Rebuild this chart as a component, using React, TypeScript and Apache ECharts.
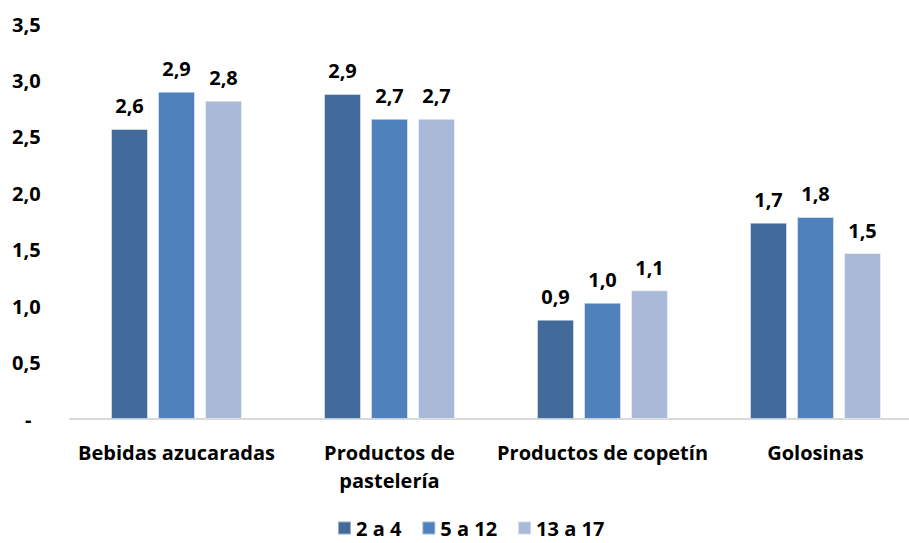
import React, { useEffect, useRef } from "react";
import * as echarts from "echarts";

const categories = ["Bebidas azucaradas", "Productos de\npastelería", "Productos de copetín", "Golosinas"];
const seriesNames = ["2 a 4", "5 a 12", "13 a 17"];
const age2to4 = [2.57, 2.88, 0.88, 1.74];
const age5to12 = [2.9, 2.66, 1.03, 1.79];
const age13to17 = [2.82, 2.66, 1.14, 1.47];
const colors = ["#426A9B", "#4F81BD", "#AAB9D7"];

const FONT = "'Open Sans', Lato, sans-serif";
const FS = 20;

const fmt = (v: number) => v.toFixed(1).replace(".", ",");

export default function App() {
  const ref = useRef<HTMLDivElement>(null);

  useEffect(() => {
    if (!ref.current) return;
    const chart = echarts.init(ref.current, undefined, { renderer: "svg" });
    const values = [age2to4, age5to12, age13to17];
    chart.setOption({
      animation: false,
      backgroundColor: "#ffffff",
      textStyle: { fontFamily: FONT },
      grid: { left: 70, top: 24, width: 852, height: 395, containLabel: false, outerBoundsMode: "none" },
      legend: {
        bottom: 5,
        left: 337,
        padding: 0,
        itemWidth: 13,
        itemHeight: 13,
        itemGap: 20,
        icon: "rect",
        textStyle: { fontFamily: FONT, fontWeight: "bold", fontSize: FS, lineHeight: 20, color: "#000" },
        data: seriesNames,
      },
      xAxis: {
        type: "category",
        data: categories,
        axisLine: { show: true, lineStyle: { color: "#d9d9d9", width: 2 } },
        axisTick: { show: false },
        axisLabel: {
          margin: 19,
          fontFamily: FONT,
          fontWeight: "bold",
          fontSize: FS,
          color: "#000",
          lineHeight: 28,
          interval: 0,
        },
      },
      yAxis: {
        type: "value",
        min: 0,
        max: 3.5,
        interval: 0.5,
        splitLine: { show: false },
        axisLine: { show: false },
        axisTick: { show: false },
        axisLabel: {
          align: "left",
          margin: 58,
          fontFamily: FONT,
          fontWeight: "bold",
          fontSize: FS,
          color: "#000",
          formatter: (v: number) => (v === 0 ? "{dash|-}" : fmt(v)),
          rich: {
            dash: { padding: [0, 0, 0, 13], fontFamily: FONT, fontWeight: "bold", fontSize: FS, color: "#000" },
          },
        },
      },
      series: seriesNames.map((name, i) => ({
        name,
        type: "bar",
        data: values[i],
        barWidth: 37,
        barGap: "27%",
        itemStyle: { color: colors[i], borderColor: "rgba(255,255,255,0.45)", borderWidth: 1 },
        label: {
          show: true,
          position: "top",
          distance: 13,
          fontFamily: FONT,
          fontWeight: "bold",
          fontSize: FS,
          color: "#000",
          formatter: (p: any) => fmt(p.value),
        },
      })),
    });
    return () => chart.dispose();
  }, []);

  return (
    <div style={{ position: "fixed", left: 0, top: 0, width: 909, height: 543, overflow: "hidden", background: "#fff" }}>
      <div ref={ref} style={{ width: 930, height: 543 }} />
    </div>
  );
}
